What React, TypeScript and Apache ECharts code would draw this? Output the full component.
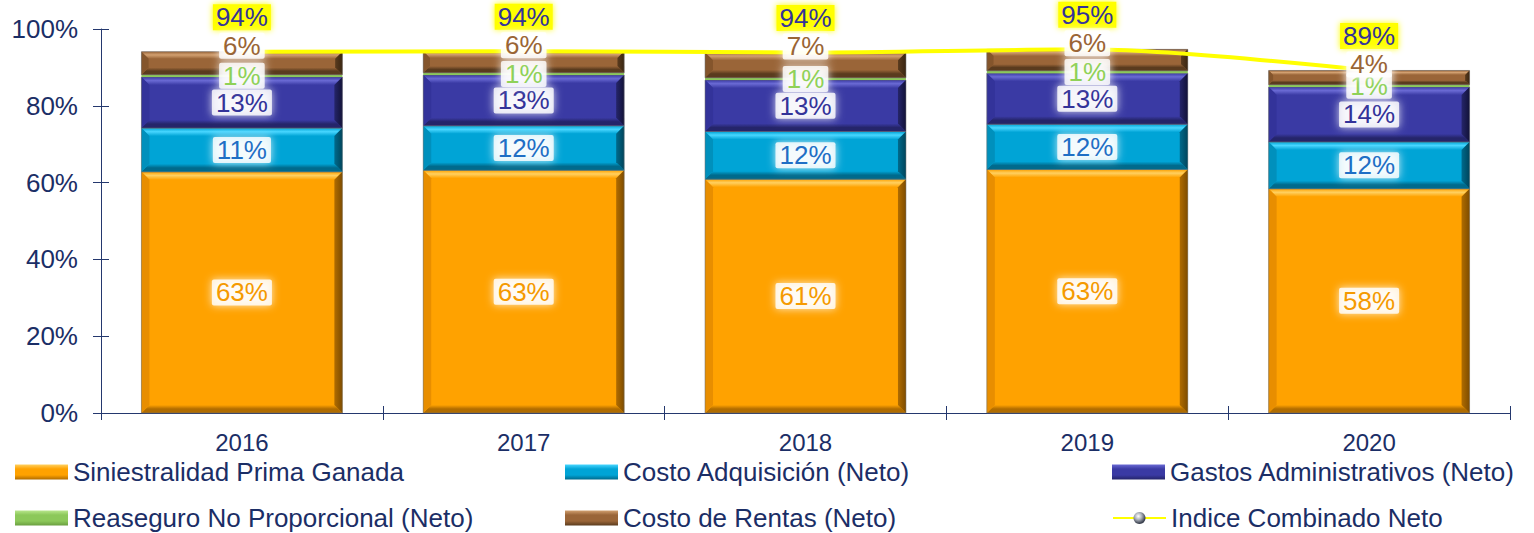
import React, { useEffect, useRef } from "react";
import * as echarts from "echarts";

const categories = ["2016", "2017", "2018", "2019", "2020"];
const seriesNames = [
  "Siniestralidad Prima Ganada",
  "Costo Adquisición (Neto)",
  "Gastos Administrativos (Neto)",
  "Reaseguro No Proporcional (Neto)",
  "Costo de Rentas (Neto)",
];
const lineName = "Indice Combinado Neto";

const siniestralidad = [62.8, 63.2, 60.9, 63.4, 58.4];
const costoAdquisicion = [11.4, 11.6, 12.4, 11.8, 12.2];
const gastosAdmin = [13.3, 13.2, 13.4, 13.3, 14.3];
const reaseguro = [0.6, 0.6, 0.6, 0.6, 0.6];
const costoRentas = [6.0, 5.6, 6.6, 5.6, 3.7];
const indiceCombinado = [94.1, 94.2, 93.9, 94.7, 89.2];

const yTicks = { min: 0, max: 100, interval: 20 };

const FONT = "'Liberation Sans', Arial, sans-serif";
const NAVY = "#1B2E66";
const AXIS = "#24386E";
const BAR_RATIO = 0.713;
const BEVEL = 8;

type Pal = { main: string; light: string; dark: string; left: string; right: string; label: string };
const palettes: Pal[] = [
  { main: "#FFA200", light: "#FFD060", dark: "#B06C00", left: "#E88E00", right: "#7E4C00", label: "#F59A00" },
  { main: "#00A4D6", light: "#48D6FF", dark: "#006A8C", left: "#0090BC", right: "#00455C", label: "#1F6FC5" },
  { main: "#3A3AA4", light: "#6A6AD4", dark: "#25256A", left: "#33339A", right: "#121238", label: "#333399" },
  { main: "#8CC85A", light: "#B8E68C", dark: "#6A9E40", left: "#80BC50", right: "#5A8A36", label: "#8FD158" },
  { main: "#9A6538", light: "#D2A070", dark: "#5A3B1E", left: "#84552C", right: "#3A2612", label: "#9A6535" },
];

const values = [siniestralidad, costoAdquisicion, gastosAdmin, reaseguro, costoRentas];

function makeRender(p: Pal) {
  return (params: any, api: any) => {
    const i = api.value(0);
    const lo = api.value(1);
    const hi = api.value(2);
    const pLo = api.coord([i, lo]);
    const pHi = api.coord([i, hi]);
    const bw = api.size([1, 0])[0] * BAR_RATIO;
    const x0 = pLo[0] - bw / 2;
    const x1 = pLo[0] + bw / 2;
    const y0 = pHi[1];
    const y1 = pLo[1];
    const h = y1 - y0;
    const children: any[] = [];
    if (h < 5) {
      children.push({
        type: "rect",
        shape: { x: x0, y: y0, width: bw, height: h },
        style: { fill: p.main },
      });
      return { type: "group", children };
    }
    const b = Math.min(BEVEL, h / 3.2, bw / 4);
    children.push({
      type: "rect",
      shape: { x: x0, y: y0, width: bw, height: h },
      style: { fill: p.main },
    });
    children.push({
      type: "polygon",
      shape: { points: [[x0, y0], [x1, y0], [x1 - b, y0 + b], [x0 + b, y0 + b]] },
      style: {
        fill: new echarts.graphic.LinearGradient(0, 0, 0, 1, [
          { offset: 0, color: p.main },
          { offset: 0.45, color: p.light },
          { offset: 1, color: p.main },
        ]),
      },
    });
    children.push({
      type: "polygon",
      shape: { points: [[x0, y1], [x1, y1], [x1 - b, y1 - b], [x0 + b, y1 - b]] },
      style: {
        fill: new echarts.graphic.LinearGradient(0, 0, 0, 1, [
          { offset: 0, color: p.main },
          { offset: 0.5, color: p.dark },
          { offset: 1, color: p.dark },
        ]),
      },
    });
    children.push({
      type: "polygon",
      shape: { points: [[x0, y0], [x0 + b, y0 + b], [x0 + b, y1 - b], [x0, y1]] },
      style: { fill: p.left },
    });
    children.push({
      type: "polygon",
      shape: { points: [[x1, y0], [x1, y1], [x1 - b, y1 - b], [x1 - b, y0 + b]] },
      style: {
        fill: new echarts.graphic.LinearGradient(0, 0, 1, 0, [
          { offset: 0, color: p.dark },
          { offset: 1, color: p.right },
        ]),
      },
    });
    children.push({
      type: "rect",
      shape: { x: x0, y: y0, width: bw, height: h },
      style: { fill: "none", stroke: "rgba(110,110,110,0.55)", lineWidth: 1 },
    });
    return { type: "group", children };
  };
}

function buildOption() {
  const bases = categories.map(() => 0);
  const customSeries = values.map((arr, k) => {
    const data = arr.map((v, i) => {
      const lo = bases[i];
      const hi = lo + v;
      bases[i] = hi;
      return [i, lo, hi];
    });
    const p = palettes[k];
    return {
      type: "custom",
      name: seriesNames[k],
      renderItem: makeRender(p),
      encode: { x: 0, y: [1, 2] },
      data,
      z: 2,
      silent: true,
      itemStyle: {
        color: new echarts.graphic.LinearGradient(0, 0, 0, 1, [
          { offset: 0, color: p.light },
          { offset: 0.3, color: p.main },
          { offset: 0.7, color: p.main },
          { offset: 1, color: p.dark },
        ]),
      },
    };
  });

  const labelSeries = values.map((arr, k) => {
    const p = palettes[k];
    const isTop = k === 4;
    return {
      type: "bar",
      name: "lbl" + k,
      stack: "lbl",
      barWidth: BAR_RATIO * 100 + "%",
      data: arr,
      z: 4,
      silent: true,
      itemStyle: { color: "rgba(0,0,0,0)" },
      label: {
        show: true,
        position: isTop ? "top" : "inside",
        distance: isTop ? -7 : 5,
        formatter: (q: any) => Math.round(q.value) + "%",
        color: p.label,
        fontSize: 26,
        fontFamily: FONT,
        backgroundColor: "rgba(255,255,255,0.82)",
        padding: [0, 4, 0, 4],
        borderRadius: 2,
        shadowColor: "rgba(255,255,255,0.95)",
        shadowBlur: 8,
      },
    };
  });

  const lineSeries = {
    type: "line",
    name: lineName,
    data: indiceCombinado,
    z: 3,
    smooth: 0.3,
    symbol: "circle",
    symbolSize: 1,
    showSymbol: true,
    silent: true,
    lineStyle: { color: "#FFFF00", width: 4 },
    itemStyle: {
      color: new echarts.graphic.RadialGradient(0.4, 0.35, 0.6, [
        { offset: 0, color: "#FFFFFF" },
        { offset: 0.5, color: "#A8AEB8" },
        { offset: 1, color: "#3C4250" },
      ]),
    },
    label: {
      show: true,
      position: "top",
      distance: 21,
      formatter: (q: any) => Math.round(q.value) + "%",
      color: "#333399",
      fontSize: 26,
      fontFamily: FONT,
      backgroundColor: "#FFFF00",
      padding: [0, 3, 0, 3],
      shadowColor: "#FFFF00",
      shadowBlur: 6,
    },
  };

  const legendNames = [...seriesNames, lineName];
  const legendLefts = [15, 565, 1112];
  const legendTops = [459, 505];
  const legends = legendNames.map((nm, j) => ({
    data: [nm],
    left: legendLefts[j % 3],
    top: legendTops[Math.floor(j / 3)],
    padding: 0,
    itemWidth: 53,
    itemHeight: 15,
    icon: j === 5 ? undefined : "rect",
    selectedMode: false,
    textStyle: { color: NAVY, fontSize: 26, fontFamily: FONT },
  }));

  return {
    animation: false,
    backgroundColor: "#FFFFFF",
    textStyle: { fontFamily: FONT },
    grid: { left: 101, right: 24, top: 29, bottom: 120, containLabel: false },
    legend: legends,
    xAxis: [
      {
        type: "category",
        data: categories,
        position: "bottom",
        axisLine: { show: true, lineStyle: { color: AXIS, width: 1 } },
        axisTick: { show: true, inside: false, length: 7, lineStyle: { color: AXIS } },
        axisLabel: { color: NAVY, fontSize: 24, fontFamily: FONT, margin: 17 },
        splitLine: { show: false },
      },
      {
        type: "category",
        data: categories,
        position: "bottom",
        axisLine: { show: false },
        axisTick: { show: true, inside: true, length: 7, lineStyle: { color: AXIS } },
        axisLabel: { show: false },
        splitLine: { show: false },
      },
    ],
    yAxis: [
      {
        type: "value",
        min: yTicks.min,
        max: yTicks.max,
        interval: yTicks.interval,
        position: "left",
        axisLine: { show: true, lineStyle: { color: AXIS, width: 1 } },
        axisTick: { show: true, inside: false, length: 8, lineStyle: { color: AXIS } },
        axisLabel: { color: NAVY, fontSize: 26, fontFamily: FONT, margin: 23, formatter: "{value}%" },
        splitLine: { show: false },
      },
      {
        type: "value",
        min: yTicks.min,
        max: yTicks.max,
        interval: yTicks.interval,
        position: "left",
        axisLine: { show: false },
        axisTick: { show: true, inside: true, length: 8, lineStyle: { color: AXIS } },
        axisLabel: { show: false },
        splitLine: { show: false },
      },
    ],
    series: [...customSeries, lineSeries, ...labelSeries],
  };
}

export default function App() {
  const ref = useRef<HTMLDivElement>(null);
  useEffect(() => {
    if (!ref.current) return;
    const chart = echarts.init(ref.current, undefined, { renderer: "svg" });
    chart.setOption(buildOption() as any);
    return () => chart.dispose();
  }, []);
  return (
    <div
      ref={ref}
      style={{ position: "fixed", left: 0, top: 0, width: 1534, height: 533, background: "#fff" }}
    />
  );
}
